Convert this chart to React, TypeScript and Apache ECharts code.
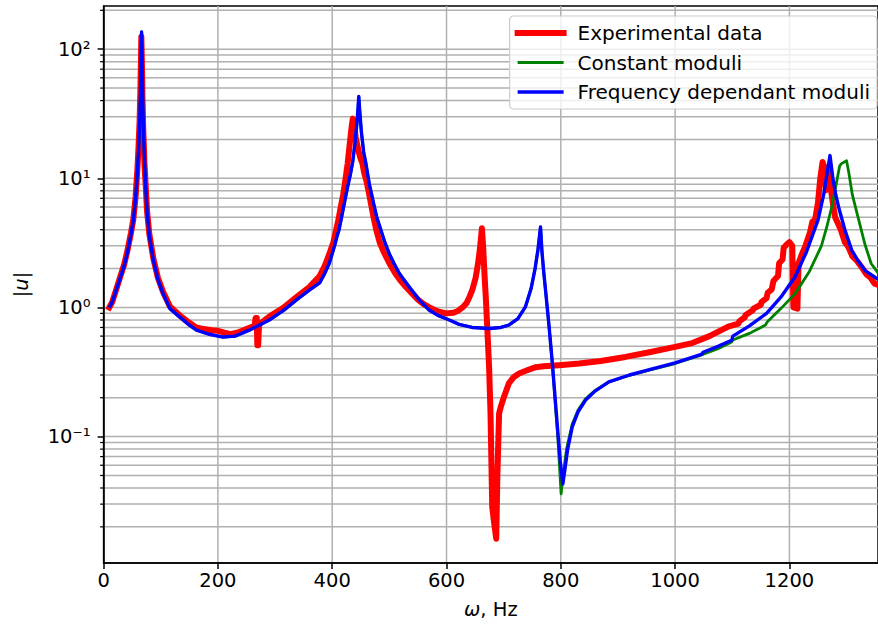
import React, { useEffect, useRef } from 'react';
import * as echarts from 'echarts';

const FONT = '"DejaVu Sans", "Noto Sans", sans-serif';

const X_MIN = 0;
const X_MAX = 1355;
const X_TICKS = [0, 200, 400, 600, 800, 1000, 1200];
const X_GRID = [200, 400, 600, 800, 1000, 1200];

const Y_MIN = 0.0105;
const Y_MAX = 216;
const Y_MAJOR = [0.1, 1, 10, 100];
const Y_MINOR = [
  0.02, 0.03, 0.04, 0.05, 0.06, 0.07, 0.08, 0.09,
  0.2, 0.3, 0.4, 0.5, 0.6, 0.7, 0.8, 0.9,
  2, 3, 4, 5, 6, 7, 8, 9,
  20, 30, 40, 50, 60, 70, 80, 90,
  200,
];

const SERIES_NAMES = ['Experimental data', 'Constant moduli', 'Frequency dependant moduli'];
const SERIES_COLORS = ['#ff0000', '#008000', '#0000ff'];
const SERIES_WIDTHS = [6, 2.8, 3.4];

// Experimental |u| vs frequency (Hz)
const EXPERIMENTAL: [number, number][] = [
  [10, 1.0], [15, 1.1], [23, 1.42], [30, 1.78], [36, 2.15], [42, 2.8], [48, 3.8], [52, 4.8],
  [56, 7.2], [59, 11.5], [61, 17], [63, 28], [64.5, 50], [65.5, 90], [66, 125], [67, 80],
  [68, 42], [69.5, 23], [71.5, 13], [74, 8.2], [76, 5.6], [80, 3.7], [87, 2.4], [95, 1.7],
  [104, 1.32], [116, 1.02], [133, 0.87], [150, 0.76], [162, 0.7], [175, 0.68], [190, 0.667],
  [200, 0.66], [210, 0.64], [222, 0.62], [235, 0.64], [250, 0.68], [264, 0.72], [266, 0.83],
  [268, 0.83], [269, 0.51], [270.5, 0.51], [272, 0.74], [290, 0.85], [315, 1.0], [337, 1.2],
  [360, 1.44], [378, 1.75], [387, 2.1], [395, 2.6], [402, 3.2], [407, 4.0], [411, 4.8],
  [415, 6.0], [419, 7.4], [422, 9.0], [427, 13], [431, 19], [434, 25], [436, 29], [438, 27],
  [441, 21], [445, 17], [449, 14.5], [453, 13], [456, 11], [460, 9.5], [464, 7.8], [468, 6.3],
  [472, 5.1], [477, 4.0], [483, 3.2], [490, 2.7], [500, 2.2], [510, 1.85], [519, 1.62],
  [529, 1.44], [540, 1.28], [550, 1.15], [560, 1.06], [570, 1.0], [585, 0.93], [599, 0.9],
  [612, 0.91], [620, 0.94], [628, 1.0], [635, 1.08], [640, 1.2], [645, 1.36], [651, 1.7],
  [656, 2.32], [659, 3.0], [662, 4.1], [664, 3.0], [666.5, 1.8], [669, 1.14], [672, 0.6],
  [674.5, 0.347], [677, 0.151], [680, 0.0285], [683, 0.022], [687, 0.0162], [689, 0.05],
  [692, 0.151], [695, 0.17], [700, 0.2], [709, 0.258], [718, 0.29], [727, 0.308], [740, 0.325],
  [756, 0.345], [770, 0.35], [797, 0.357], [832, 0.368], [870, 0.385], [913, 0.414],
  [955, 0.45], [1000, 0.495], [1030, 0.53], [1060, 0.6], [1093, 0.71], [1111, 0.75],
  [1112, 0.78], [1122, 0.84], [1123, 0.87], [1136, 0.95], [1137, 0.98], [1150, 1.05],
  [1151, 1.1], [1160, 1.18], [1162, 1.3], [1169, 1.38], [1172, 1.6], [1180, 1.75], [1182, 2.2],
  [1188, 2.35], [1190, 2.9], [1196, 3.1], [1200, 3.2], [1205, 3.0], [1207, 1.0], [1214, 0.98],
  [1216, 2.2], [1222, 2.6], [1228, 3.0], [1236, 3.8], [1240, 4.6], [1245, 4.8], [1250, 6.5],
  [1254, 10], [1258, 13.4], [1261, 12], [1264, 8.1], [1267, 9], [1270, 12.5], [1273, 8],
  [1277, 6], [1280, 5.0], [1290, 4.0], [1297, 3.2], [1303, 2.95], [1310, 2.5], [1318, 2.3],
  [1326, 2.06], [1335, 1.8], [1342, 1.7], [1349, 1.53], [1355, 1.5],
];

// Part common to both models (the curves coincide up to ~780 Hz)
const MODEL_SHARED: [number, number][] = [
  [10, 1.0], [15, 1.1], [23, 1.4], [30, 1.75], [36, 2.1], [42, 2.7], [48, 3.7], [52, 4.7],
  [56, 7.0], [59, 11], [61, 16], [63, 26], [64.5, 45], [65.5, 80], [66.5, 136], [67.5, 75],
  [68.5, 40], [70, 22], [72, 12.5], [74, 8], [76, 5.5], [80, 3.6], [87, 2.32], [95, 1.65],
  [104, 1.28], [116, 0.98], [133, 0.846], [150, 0.73], [162.5, 0.667], [185, 0.62], [209, 0.59],
  [230, 0.6], [255, 0.667], [290, 0.8], [315, 0.95], [337, 1.14], [360, 1.36], [378, 1.55],
  [386, 1.8], [395, 2.2], [400, 2.6], [405, 3.1], [408, 3.5], [412, 4.0], [416, 4.9], [420, 6.0],
  [424, 7.4], [428, 9.0], [432, 10.8], [436, 13.5], [440, 19], [443, 26], [445, 34], [446.5, 43],
  [448, 34], [451, 23], [455, 16], [459, 13], [465, 9], [472, 6.5], [478, 5.0], [485, 4.0],
  [492, 3.2], [500, 2.6], [508, 2.2], [517, 1.85], [525, 1.65], [535, 1.44], [552, 1.15],
  [570, 0.95], [587, 0.86], [605, 0.8], [622, 0.74], [645, 0.7], [675, 0.687], [695, 0.7],
  [709, 0.73], [725, 0.82], [738, 1.01], [748, 1.4], [755, 2.0], [760, 2.8], [764.5, 4.2],
  [767, 2.7], [770, 1.9], [773, 1.4], [779, 0.75],
];

const CONSTANT_TAIL: [number, number][] = [
  [785, 0.37], [790, 0.19], [795, 0.095], [800.5, 0.036], [804, 0.05], [810, 0.08], [820, 0.125],
  [830, 0.16], [843, 0.195], [860, 0.228], [884, 0.265], [920, 0.298], [960, 0.332], [1000, 0.368],
  [1047, 0.43], [1075, 0.48], [1099, 0.54], [1101, 0.56], [1130, 0.63], [1158, 0.73], [1161, 0.77],
  [1185, 0.98], [1210, 1.28], [1235, 1.9], [1256, 3.0], [1266, 4.3], [1274, 6.0], [1282, 9.1],
  [1288, 12.5], [1291, 13.0], [1300, 13.7], [1304, 11], [1310, 7.5], [1320, 5.0], [1332, 3.1],
  [1343, 2.19], [1355, 1.85],
];

const FREQ_TAIL: [number, number][] = [
  [785, 0.38], [790, 0.2], [794, 0.12], [799, 0.065], [803.5, 0.043], [807, 0.055], [812, 0.08],
  [820, 0.119], [830, 0.155], [843, 0.191], [860, 0.225], [884, 0.265], [920, 0.3], [960, 0.335],
  [1000, 0.372], [1047, 0.435], [1049, 0.45], [1075, 0.5], [1099, 0.558], [1101, 0.6], [1130, 0.72],
  [1160, 0.9], [1185, 1.2], [1210, 1.73], [1230, 2.7], [1250, 4.75], [1260, 7.5], [1266, 11],
  [1271, 15], [1276, 10], [1281, 7.5], [1286, 6.0], [1297, 4.0], [1309, 2.78], [1320, 2.3],
  [1332, 1.94], [1355, 1.65],
];

const SUP: Record<string, string> = {
  '-': '\u207B', '0': '\u2070', '1': '\u00B9', '2': '\u00B2', '3': '\u00B3',
};

function logLabel(v: number): string {
  const e = Math.round(Math.log10(v));
  return '10' + String(e).split('').map((c) => SUP[c] || c).join('');
}

export default function App() {
  const ref = useRef<HTMLDivElement>(null);

  useEffect(() => {
    if (!ref.current) return;
    const chart = echarts.init(ref.current, undefined, { renderer: 'svg' });

    const hGridData = [
      ...Y_MAJOR.map((v) => [X_MIN, v, 0]),
      ...Y_MINOR.map((v) => [X_MIN, v, 1]),
    ];
    const vGridData = X_GRID.map((v) => [v, Y_MIN]);

    const seriesData = [
      EXPERIMENTAL,
      [...MODEL_SHARED, ...CONSTANT_TAIL],
      [...MODEL_SHARED, ...FREQ_TAIL],
    ];

    const option: any = {
      animation: false,
      backgroundColor: '#ffffff',
      grid: {
        left: 103.6,
        top: 6,
        width: 776.4,
        height: 557,
        show: true,
        borderColor: '#000000',
        borderWidth: 1.5,
        backgroundColor: 'transparent',
      },
      legend: {
        data: SERIES_NAMES.map((name, i) => ({
          name,
          lineStyle: { color: SERIES_COLORS[i], width: SERIES_WIDTHS[i] },
          itemStyle: { opacity: 0, borderWidth: 0 },
        })),
        orient: 'vertical',
        right: 1,
        top: 16,
        itemWidth: 46,
        itemHeight: 14,
        itemGap: 7.5,
        padding: [6, 7, 6, 5],
        backgroundColor: 'rgba(255,255,255,0.8)',
        borderColor: '#cccccc',
        borderWidth: 1.2,
        borderRadius: 4,
        selectedMode: false,
        itemStyle: { opacity: 0, borderWidth: 0 },
        textStyle: {
          fontSize: 20,
          fontFamily: FONT,
          color: '#000000',
          lineHeight: 22,
          padding: [0, 0, 0, 9],
        },
      },
      xAxis: {
        type: 'value',
        min: X_MIN,
        max: X_MAX,
        interval: 200,
        z: 4,
        name: '{i|\u03C9}, Hz',
        nameLocation: 'middle',
        nameGap: 36,
        nameTextStyle: {
          fontSize: 19.5,
          fontFamily: FONT,
          color: '#000000',
          rich: { i: { fontStyle: 'italic', fontSize: 19.5, fontFamily: FONT, color: '#000000' } },
        },
        axisLine: { show: true, lineStyle: { color: '#000000', width: 1.5 } },
        axisTick: { show: true, customValues: X_TICKS, length: 6, lineStyle: { color: '#000000', width: 1.5 } },
        axisLabel: {
          customValues: X_TICKS,
          formatter: (v: number) => String(v),
          fontSize: 19.5,
          fontFamily: FONT,
          color: '#000000',
          margin: 7,
        },
        splitLine: { show: false },
      },
      yAxis: {
        type: 'log',
        logBase: 10,
        min: Y_MIN,
        max: Y_MAX,
        z: 4,
        name: '|{i|u}|',
        nameLocation: 'middle',
        nameRotate: 90,
        nameGap: 72,
        nameTextStyle: {
          fontSize: 19.5,
          fontFamily: FONT,
          color: '#000000',
          rich: { i: { fontStyle: 'italic', fontSize: 19.5, fontFamily: FONT, color: '#000000' } },
        },
        axisLine: { show: true, lineStyle: { color: '#000000', width: 1.5 } },
        axisTick: { show: true, customValues: Y_MAJOR, length: 6, lineStyle: { color: '#000000', width: 1.5 } },
        axisLabel: {
          customValues: Y_MAJOR,
          formatter: (v: number) => logLabel(v),
          fontSize: 19.5,
          fontFamily: FONT,
          color: '#000000',
          margin: 13,
        },
        splitLine: { show: false },
        minorTick: { show: false },
      },
      series: [
        {
          name: 'hgrid',
          type: 'custom',
          z: 1,
          silent: true,
          clip: false,
          encode: { x: 0, y: 1 },
          data: hGridData,
          renderItem: (params: any, api: any) => {
            const cs = params.coordSys;
            const y = api.coord([X_MIN, api.value(1)])[1];
            const minor = api.value(2) === 1;
            const children: any[] = [
              {
                type: 'line',
                shape: { x1: cs.x + 1, y1: y, x2: cs.x + cs.width, y2: y },
                style: { stroke: '#b0b0b0', lineWidth: 1.5 },
              },
            ];
            if (minor) {
              children.push({
                type: 'line',
                shape: { x1: cs.x - 3.5, y1: y, x2: cs.x, y2: y },
                style: { stroke: '#000000', lineWidth: 1.2 },
              });
            }
            return { type: 'group', children };
          },
        },
        {
          name: 'vgrid',
          type: 'custom',
          z: 1,
          silent: true,
          encode: { x: 0, y: 1 },
          data: vGridData,
          renderItem: (params: any, api: any) => {
            const cs = params.coordSys;
            const x = api.coord([api.value(0), Y_MIN])[0];
            return {
              type: 'line',
              shape: { x1: x, y1: cs.y, x2: x, y2: cs.y + cs.height - 1 },
              style: { stroke: '#b0b0b0', lineWidth: 1.5 },
            };
          },
        },
        ...SERIES_NAMES.map((name, i) => ({
          name,
          type: 'line',
          data: seriesData[i],
          symbol: 'none',
          z: 3 + i,
          lineStyle: {
            color: SERIES_COLORS[i],
            width: SERIES_WIDTHS[i],
            cap: i === 0 ? 'square' : 'butt',
            join: 'round',
          },
          itemStyle: { color: SERIES_COLORS[i] },
        })),
      ],
    };

    chart.setOption(option);
    return () => {
      chart.dispose();
    };
  }, []);

  return (
    <div
      ref={ref}
      style={{ position: 'absolute', left: 0, top: 0, width: 878, height: 628, background: '#fff' }}
    />
  );
}
